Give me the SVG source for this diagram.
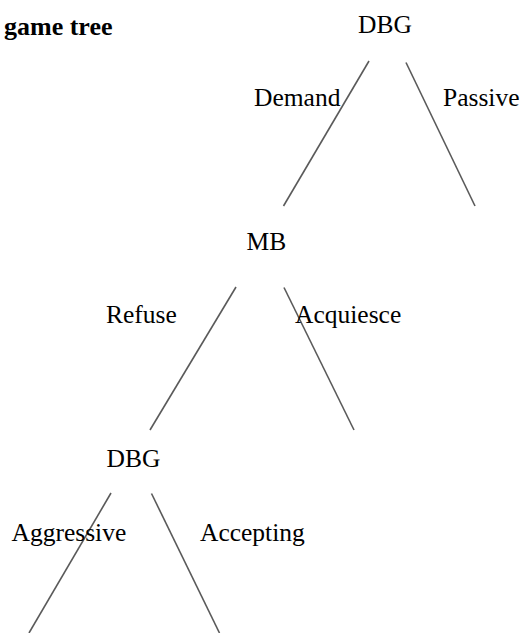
<svg xmlns="http://www.w3.org/2000/svg" width="522" height="633" viewBox="0 0 522 633">
  <style>
    text { font-family: "Liberation Serif", "Times New Roman", serif; font-size: 25.5px; fill: #000; }
    .title { font-weight: bold; font-size: 26px; }
    .edge { stroke: #5a5a5a; stroke-width: 1.6; fill: none; }
  </style>
  <rect width="522" height="633" fill="#fff"/>
  <text class="title" x="4" y="35">game tree</text>

  <g id="connectors">
    <line class="edge" x1="369" y1="61" x2="283.5" y2="206"/>
    <line class="edge" x1="406" y1="62.5" x2="475" y2="206"/>
    <line class="edge" x1="236" y1="287" x2="150" y2="430"/>
    <line class="edge" x1="284" y1="287.5" x2="354" y2="430"/>
    <line class="edge" x1="111" y1="493" x2="29" y2="633"/>
    <line class="edge" x1="151.5" y1="493.5" x2="219.5" y2="633"/>
  </g>

  <g id="node-dbg-root">
    <text x="358" y="33">DBG</text>
  </g>
  <g id="label-demand"><text x="254" y="106">Demand</text></g>
  <g id="label-passive"><text x="443" y="106">Passive</text></g>

  <g id="node-mb">
    <text x="246.5" y="250">MB</text>
  </g>
  <g id="label-refuse"><text x="106" y="323">Refuse</text></g>
  <g id="label-acquiesce"><text x="295" y="323">Acquiesce</text></g>

  <g id="node-dbg-second">
    <text x="106.5" y="467">DBG</text>
  </g>
  <g id="label-aggressive"><text x="11.5" y="541">Aggressive</text></g>
  <g id="label-accepting"><text x="200" y="541">Accepting</text></g>
</svg>
